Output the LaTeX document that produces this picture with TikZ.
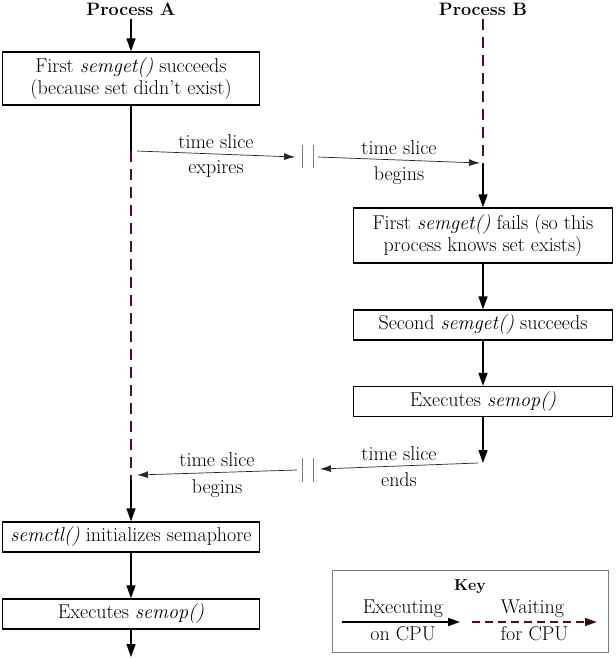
\documentclass[tikz,border=0pt]{standalone}
\usepackage{tikz}
\usetikzlibrary{arrows.meta, positioning}
\definecolor{waitred}{HTML}{4A1212}
\tikzstyle{block} = [draw, line width=1.4pt, fill=white, rectangle, minimum width=257pt, minimum height=30pt, align=center, inner sep=2pt]
\tikzstyle{title} = [font=\fontsize{18}{21}\selectfont\bfseries]
\tikzstyle{point} = [coordinate]
\tikzstyle{run} = [line width=1.6pt, -{Triangle[length=13pt,width=9pt]}]
\tikzstyle{wait} = [line width=1.6pt, draw=waitred, dash pattern=on 11pt off 7pt]
\tikzstyle{slice} = [line width=0.7pt, draw=black!85, -{Latex[length=11pt,width=7pt]}]
\tikzstyle{gap} = [line width=1pt, draw=gray]
\tikzstyle{upper} = [above, yshift=2pt]
\tikzstyle{lower} = [below, yshift=-3pt]

\begin{document}
\begin{tikzpicture}[x=1pt, y=-1pt, node distance=3cm, font=\fontsize{20}{22}\selectfont]
	\useasboundingbox (0,0) rectangle (616,659);

	% process A
	\node [title] (procA) at (131,9) {Process A};
	\node [block, minimum height=53pt] (getA) at (131,78.5) {First \textit{semget()} succeeds\\(because set didn't exist)};
	\node [point] (sliceA) at (131,151) {};
	\node [point] (resumeA) at (131,480) {};
	\node [block] (semctlA) at (131,537) {\textit{semctl()} initializes semaphore};
	\node [block, below of=semctlA, node distance=77pt] (opA) {Executes \textit{semop()}};
	\node [point] (exitA) at (131,657) {};

	% process B
	\node [title] (procB) at (483,9) {Process B};
	\node [point] (wakeB) at (483,164) {};
	\node [block, minimum height=55pt, minimum width=259pt] (getB) at (483,235.5) {First \textit{semget()} fails (so this\\process knows set exists)};
	\node [block, below of=getB, node distance=89.5pt, minimum width=259pt] (getB2) {Second \textit{semget()} succeeds};
	\node [block, below of=getB2, node distance=76.5pt, minimum width=259pt] (opB) {Executes \textit{semop()}};
	\node [point] (endB) at (483,463) {};

	\draw[run] (procA) -- (getA);
	\draw[line width=1.6pt] (getA) -- (sliceA);
	\draw[wait] (sliceA) -- (resumeA);
	\draw[run] (resumeA) -- (semctlA);
	\draw[run] (semctlA) -- (opA);
	\draw[run] (opA) -- (exitA);

	\draw[wait] (procB) -- (wakeB);
	\draw[run] (wakeB) -- (getB);
	\draw[run] (getB) -- (getB2);
	\draw[run] (getB2) -- (opB);
	\draw[run] (opB) -- (endB);

	% time slices
	\node [point] (outA) at (137,151) {};
	\node [point] (brkA) at (295,157) {};
	\node [point] (brkB) at (318,157) {};
	\node [point] (inB) at (480,163) {};
	\draw[slice] (outA) -- node[upper]{time slice} node[lower]{expires} (brkA);
	\draw[slice] (brkB) -- node[upper]{time slice} node[lower]{begins} (inB);

	\node [point] (outB) at (478,463) {};
	\node [point] (brkC) at (320,469) {};
	\node [point] (brkD) at (297,470) {};
	\node [point] (inA) at (137,475) {};
	\draw[slice] (outB) -- node[upper]{time slice} node[lower]{ends} (brkC);
	\draw[slice] (brkD) -- node[upper]{time slice} node[lower]{begins} (inA);

	\foreach \x in {302,313} {
		\draw[gap] (\x,145) -- (\x,168);
		\draw[gap] (\x,458) -- (\x,482);
	}

	% key
	\node [draw=gray, line width=0.8pt, minimum width=276pt, minimum height=82pt] (key) at (470,611) {};
	\node [font=\fontsize{16}{18}\selectfont\bfseries] (keylabel) at (470,587) {Key};
	\node [point] (exeL) at (342,622) {};
	\node [point] (exeR) at (460,622) {};
	\node [point] (waitL) at (472,622) {};
	\node [point] (waitR) at (597,622) {};
	\draw[run, -{Triangle[length=12pt,width=8pt]}] (exeL) -- node[above, xshift=2pt]{Executing} node[below, xshift=2pt]{on CPU} (exeR);
	\draw[wait, dash pattern=on 8pt off 5pt, -{Triangle[length=12pt,width=8pt,fill=black!85!waitred]}] (waitL) -- node[above, xshift=-2pt]{Waiting} node[below]{for CPU} (waitR);
\end{tikzpicture}
\end{document}
